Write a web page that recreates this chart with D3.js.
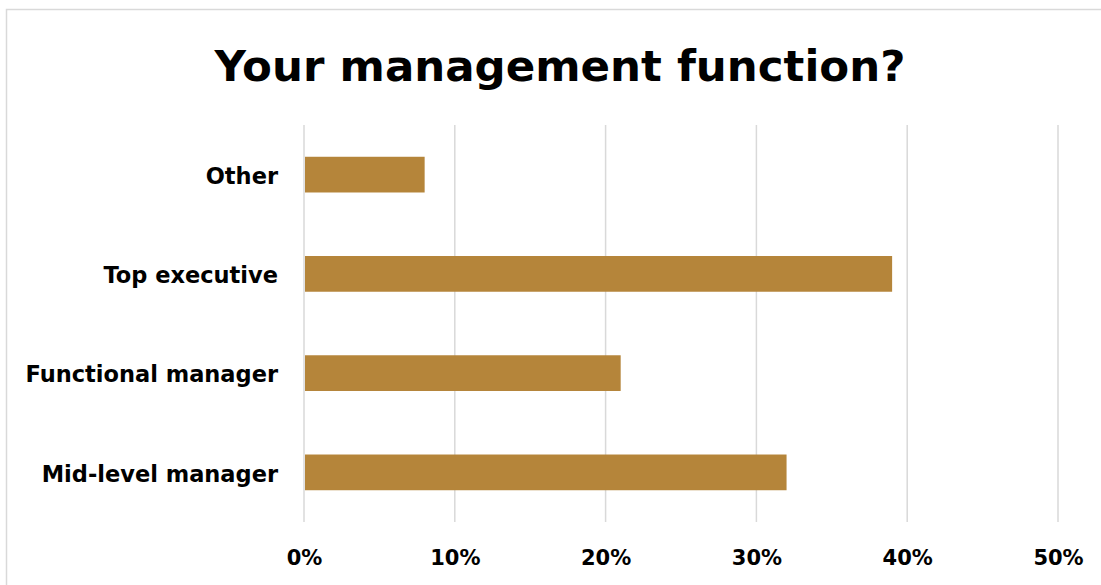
<!DOCTYPE html>
<html>
<head>
<meta charset="utf-8">
<script src="https://cdn.jsdelivr.net/npm/d3@7"></script>
<style>
  html, body { margin: 0; padding: 0; background: #fff; }
  svg { display: block; }
  text { font-family: "DejaVu Sans", "Open Sans", sans-serif; font-weight: bold; fill: #000; }
</style>
</head>
<body>
<svg id="chart" width="1101" height="585"></svg>
<script>
// Survey answers: share of respondents per management function
const categories = ["Other", "Top executive", "Functional manager", "Mid-level manager"];
const values = [8, 39, 21, 32];
const tickValues = [0, 10, 20, 30, 40, 50];
const tickLabels = ["0%", "10%", "20%", "30%", "40%", "50%"];
const title = "Your management function?";

const svg = d3.select("#chart");
const W = 1101, H = 585;
const plot = { left: 304, right: 1058, top: 125, bottom: 522 };

// outer chart frame
svg.append("rect")
  .attr("x", 6.5).attr("y", 9.5)
  .attr("width", W + 20).attr("height", H + 20)
  .attr("fill", "#fff")
  .attr("stroke", "#d9d9d9").attr("stroke-width", 1.5);

svg.append("text")
  .attr("x", 560).attr("y", 81)
  .attr("text-anchor", "middle")
  .style("font-size", "43.5px")
  .text(title);

const x = d3.scaleLinear().domain([0, 50]).range([plot.left, plot.right]);
const y = d3.scaleBand().domain(categories).range([plot.top, plot.bottom])
  .paddingInner(0.64).paddingOuter(0.32);

// vertical gridlines
svg.append("g").selectAll("line").data(tickValues).join("line")
  .attr("x1", d => x(d)).attr("x2", d => x(d))
  .attr("y1", plot.top).attr("y2", plot.bottom)
  .attr("stroke", "#d9d9d9").attr("stroke-width", 1.5);

// bars
svg.append("g").selectAll("rect").data(values).join("rect")
  .attr("x", x(0) + 1)
  .attr("y", (d, i) => y(categories[i]))
  .attr("width", d => x(d) - x(0) - 1)
  .attr("height", y.bandwidth())
  .attr("fill", "#b5853a");

// bottom axis labels
const xAxis = d3.axisBottom(x).tickValues(tickValues)
  .tickFormat((d, i) => tickLabels[i]).tickSize(0).tickPadding(0);
const gx = svg.append("g").attr("transform", `translate(0,${plot.bottom + 28})`).call(xAxis);
gx.select(".domain").remove();
gx.selectAll("text")
  .style("font-size", "21px")
  .style("font-family", "\"DejaVu Sans\", sans-serif")
  .style("font-weight", "bold")
  .attr("fill", "#000");

// category labels
const yAxis = d3.axisLeft(y).tickSize(0).tickPadding(0);
const gy = svg.append("g").attr("transform", `translate(${plot.left - 26},2)`).call(yAxis);
gy.select(".domain").remove();
gy.selectAll("text")
  .style("font-size", "22.5px")
  .style("font-family", "\"DejaVu Sans\", sans-serif")
  .style("font-weight", "bold")
  .attr("fill", "#000");
</script>
</body>
</html>
